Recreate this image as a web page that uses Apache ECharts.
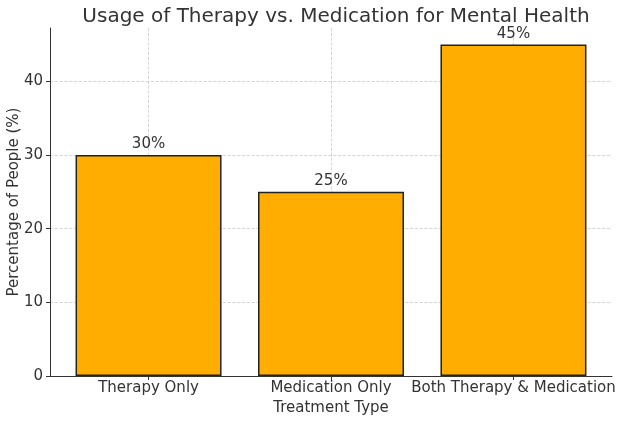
<!DOCTYPE html>
<html>
<head>
<meta charset="utf-8">
<script src="https://cdn.jsdelivr.net/npm/echarts@6/dist/echarts.min.js"></script>
<style>
  html, body { margin: 0; padding: 0; background: #fff; }
  #main { width: 624px; height: 421px; }
</style>
</head>
<body>
<div id="main"></div>
<script>
var categories = ['Therapy Only', 'Medication Only', 'Both Therapy & Medication'];
var percentages = [30, 25, 45];
var yTicks = [0, 10, 20, 30, 40];

var myChart = echarts.init(document.getElementById('main'));
var font = 'DejaVu Sans';

// bars sit on a value x axis so the matplotlib-style margins line up
var barData = percentages.map(function (v, i) { return [i, v]; });
var catPositions = categories.map(function (c, i) { return i; });

option = {
    backgroundColor: '#fff',
    textStyle: { fontFamily: font },
    title: {
        text: 'Usage of Therapy vs. Medication for Mental Health',
        left: 331,
        textAlign: 'center',
        top: 2,
        textStyle: { fontSize: 20, fontWeight: 'normal', color: '#333', fontFamily: font }
    },
    grid: { left: 50, right: 12, top: 28, bottom: 45, outerBoundsMode: 'none', containLabel: false },
    xAxis: {
        type: 'value',
        min: -0.54,
        max: 2.54,
        name: 'Treatment Type',
        nameLocation: 'middle',
        nameGap: 25,
        nameMoveOverlap: false,
        nameTextStyle: { fontSize: 15, color: '#333', fontFamily: font },
        axisLine: { show: true, onZero: false, lineStyle: { color: '#333', width: 1 } },
        axisTick: { show: true, length: 4, customValues: catPositions, lineStyle: { color: '#333' } },
        axisLabel: {
            customValues: catPositions,
            fontSize: 15, color: '#333', margin: 5,
            formatter: function (v) { return categories[Math.round(v)]; }
        },
        splitLine: { show: true, lineStyle: { type: 'dashed', color: '#ccc', width: 0.8 } }
    },
    yAxis: {
        type: 'value',
        min: 0,
        max: 47.25,
        interval: 10,
        name: 'Percentage of People (%)',
        nameLocation: 'middle',
        nameGap: 28,
        nameMoveOverlap: false,
        nameTextStyle: { fontSize: 15, color: '#333', fontFamily: font },
        axisLine: { show: true, onZero: false, lineStyle: { color: '#333', width: 1 } },
        axisTick: { show: true, length: 4, customValues: yTicks, lineStyle: { color: '#333' } },
        axisLabel: { customValues: yTicks, fontSize: 15, color: '#333', margin: 7 },
        splitLine: { show: true, lineStyle: { type: 'dashed', color: '#ccc', width: 0.8 } }
    },
    series: [{
        type: 'bar',
        data: barData,
        barWidth: 146,
        itemStyle: { color: '#ffad00', borderColor: '#222', borderWidth: 1.5 },
        label: {
            show: true,
            position: 'top',
            distance: 3,
            fontSize: 15,
            color: '#333',
            fontFamily: font,
            formatter: function (p) { return p.value[1] + '%'; }
        }
    }]
};

myChart.setOption(option);
</script>
</body>
</html>
